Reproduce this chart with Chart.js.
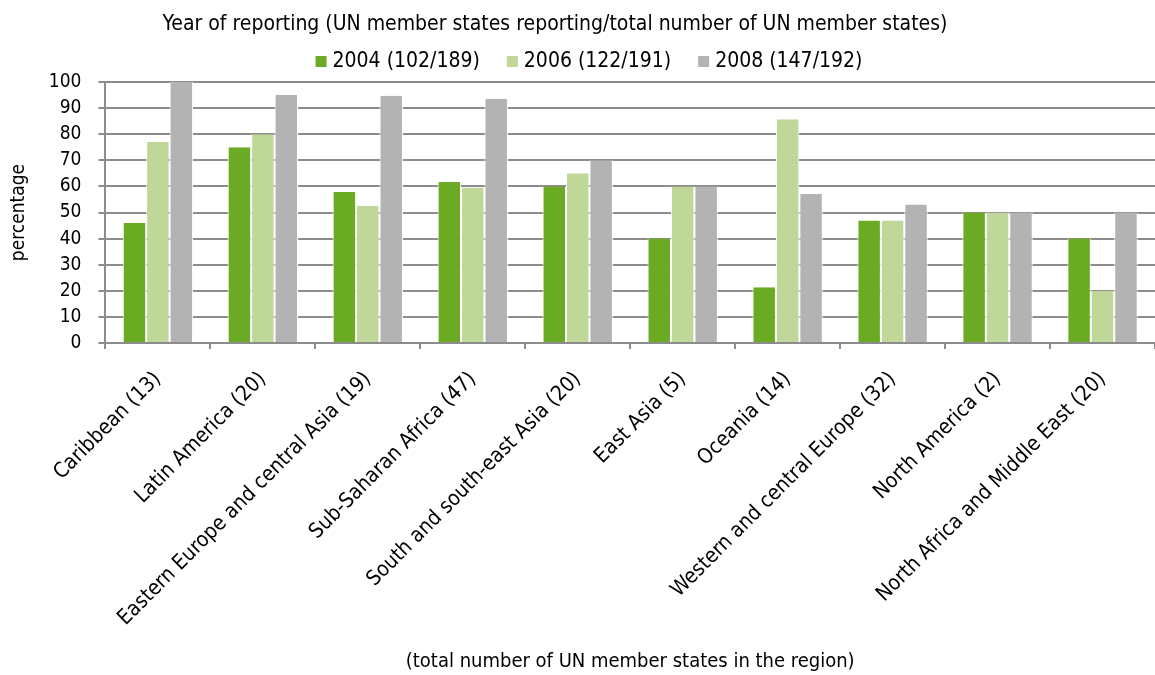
<!DOCTYPE html>
<html>
<head>
<meta charset="utf-8">
<script src="https://cdn.jsdelivr.net/npm/chart.js"></script>
<style>
  html, body { margin: 0; padding: 0; background: #fff; }
  #wrap { width: 1155px; height: 675px; }
</style>
</head>
<body>
<div id="wrap"><canvas id="regionChart"></canvas></div>
<script>
// regions with number of UN member states in each
const regions = [
    'Caribbean (13)', 'Latin America (20)', 'Eastern Europe and central Asia (19)',
    'Sub-Saharan Africa (47)', 'South and south-east Asia (20)', 'East Asia (5)',
    'Oceania (14)', 'Western and central Europe (32)', 'North America (2)',
    'North Africa and Middle East (20)'
];
const seriesNames = ['2004 (102/189)', '2006 (122/191)', '2008 (147/192)'];

// percentage of member states reporting
const pct2004 = [46, 75, 57.9, 61.7, 60, 40, 21.4, 46.9, 50, 40];
const pct2006 = [77, 80, 52.6, 59.6, 65, 60, 85.7, 46.9, 50, 20];
const pct2008 = [100, 95, 94.7, 93.6, 70, 60, 57.1, 53.1, 50, 50];

const yTicks = [0, 10, 20, 30, 40, 50, 60, 70, 80, 90, 100];

const headerText = 'Year of reporting (UN member states reporting/total number of UN member states)';
const xAxisText = '(total number of UN member states in the region)';

const FONT = 'Tahoma, "DejaVu Sans Condensed", "DejaVu Sans", sans-serif';
Chart.defaults.font.family = FONT;
Chart.defaults.color = '#000';

// heading line, compact legend row and the bottom axis caption
const captionPlugin = {
    id: 'captions',
    afterDraw(chart) {
        const ctx = chart.ctx;
        ctx.save();
        ctx.font = '21px ' + FONT;
        ctx.fillStyle = '#000';
        ctx.textBaseline = 'middle';
        ctx.textAlign = 'center';
        ctx.fillText(headerText, 555, 25);

        const box = 11, gap = 6, spacing = 27;
        const sets = chart.data.datasets;
        const widths = sets.map(ds => ctx.measureText(ds.label).width);
        const total = widths.reduce((a, w) => a + box + gap + w, 0) + spacing * (sets.length - 1);
        let x = 589 - total / 2;
        ctx.textAlign = 'left';
        sets.forEach((ds, i) => {
            ctx.fillStyle = ds.backgroundColor;
            ctx.fillRect(x, 56, box, box);
            x += box + gap;
            ctx.fillStyle = '#000';
            ctx.fillText(ds.label, x, 62);
            x += widths[i] + spacing;
        });

        const area = chart.chartArea;
        ctx.font = '20px ' + FONT;
        ctx.textAlign = 'center';
        ctx.fillText(xAxisText, (area.left + area.right) / 2, 662);
        ctx.restore();
    }
};

const barStyle = (color) => ({
    backgroundColor: color,
    borderColor: '#ffffff',
    borderWidth: { left: 1, right: 1, top: 0, bottom: 0 },
    barPercentage: 1.0,
    categoryPercentage: 0.67
});

new Chart(document.getElementById('regionChart'), {
    type: 'bar',
    data: {
        labels: regions,
        datasets: [
            { label: seriesNames[0], data: pct2004, ...barStyle('#6aab23') },
            { label: seriesNames[1], data: pct2006, ...barStyle('#bfd89a') },
            { label: seriesNames[2], data: pct2008, ...barStyle('#b3b3b3') }
        ]
    },
    options: {
        responsive: true,
        maintainAspectRatio: false,
        animation: false,
        layout: { padding: { left: 7, right: 0, top: 82, bottom: 0 } },
        plugins: {
            legend: { display: false },
            tooltip: { enabled: false }
        },
        scales: {
            x: {
                // fixed band for the long rotated labels; keep them from pushing the plot sideways
                afterFit: (axis) => {
                    axis.paddingLeft = 0;
                    axis.paddingRight = 0;
                    axis.height = 332;
                },
                grid: {
                    offset: true,
                    drawOnChartArea: false,
                    color: '#8c8c8c',
                    lineWidth: 2,
                    tickLength: 6
                },
                border: { color: '#8c8c8c', width: 2 },
                ticks: {
                    autoSkip: false,
                    maxRotation: 45,
                    minRotation: 45,
                    font: { size: 21 },
                    padding: 18
                }
            },
            y: {
                min: 0,
                max: 100,
                afterBuildTicks: (axis) => { axis.ticks = yTicks.map(v => ({ value: v })); },
                grid: { color: '#8c8c8c', lineWidth: 2, tickLength: 7 },
                border: { color: '#8c8c8c', width: 2 },
                ticks: { font: { size: 19 }, padding: 17 },
                title: {
                    display: true,
                    text: 'percentage',
                    font: { size: 19 },
                    padding: { top: 1, bottom: 1 }
                }
            }
        }
    },
    plugins: [captionPlugin]
});
</script>
</body>
</html>
